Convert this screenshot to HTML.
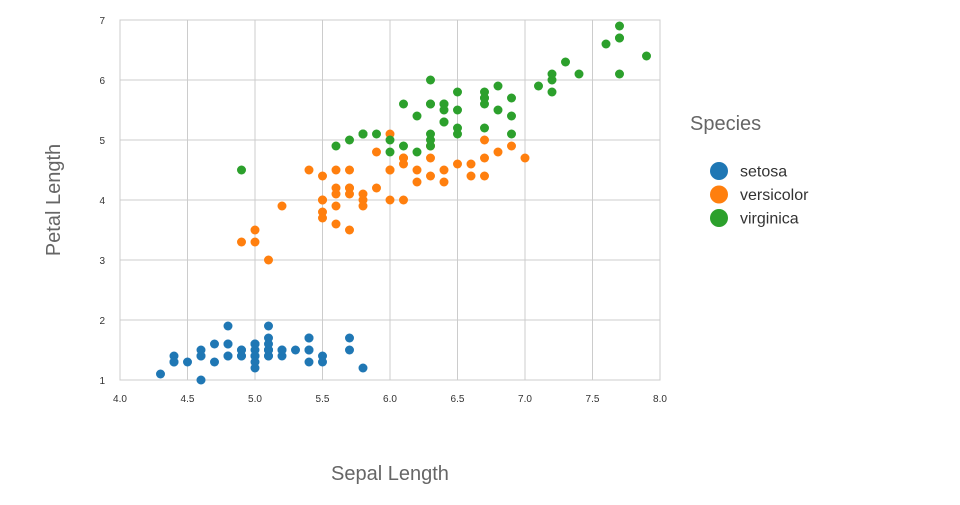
<!DOCTYPE html>
<html><head><meta charset="utf-8"><style>
body{margin:0;background:#fff;font-family:"Liberation Sans","DejaVu Sans",sans-serif}
svg text{font-family:"Liberation Sans","DejaVu Sans",sans-serif}
</style></head><body>
<svg id="chart" width="960" height="500">
<g id="grid"></g>
<rect x="120" y="20" width="540" height="360" fill="none" stroke="#ccc"/>
<g id="ticks"></g>
<g id="points"></g>
<text x="390" y="480" text-anchor="middle" font-size="20" fill="#666">Sepal Length</text>
<text transform="translate(60,200) rotate(-90)" text-anchor="middle" font-size="20" fill="#666">Petal Length</text>
<g id="legend">
<text x="690" y="130" font-size="20" fill="#666">Species</text>
</g>
</svg>
<script>
const species = ["setosa","versicolor","virginica"];
const colors = ["#1f77b4","#ff7f0e","#2ca02c"];
const xTicks = ["4.0","4.5","5.0","5.5","6.0","6.5","7.0","7.5","8.0"];
const yTicks = ["1","2","3","4","5","6","7"];
const setosaX = [5.1,4.9,4.7,4.6,5.0,5.4,4.6,5.0,4.4,4.9,5.4,4.8,4.8,4.3,5.8,5.7,5.4,5.1,5.7,5.1,5.4,5.1,4.6,5.1,4.8,5.0,5.0,5.2,5.2,4.7,4.8,5.4,5.2,5.5,4.9,5.0,5.5,4.9,4.4,5.1,5.0,4.5,4.4,5.0,5.1,4.8,5.1,4.6,5.3,5.0];
const setosaY = [1.4,1.4,1.3,1.5,1.4,1.7,1.4,1.5,1.4,1.5,1.5,1.6,1.4,1.1,1.2,1.5,1.3,1.4,1.7,1.5,1.7,1.5,1.0,1.7,1.9,1.6,1.6,1.5,1.4,1.6,1.6,1.5,1.5,1.4,1.5,1.2,1.3,1.4,1.3,1.5,1.3,1.3,1.3,1.6,1.9,1.4,1.6,1.4,1.5,1.4];
const versicolorX = [7.0,6.4,6.9,5.5,6.5,5.7,6.3,4.9,6.6,5.2,5.0,5.9,6.0,6.1,5.6,6.7,5.6,5.8,6.2,5.6,5.9,6.1,6.3,6.1,6.4,6.6,6.8,6.7,6.0,5.7,5.5,5.5,5.8,6.0,5.4,6.0,6.7,6.3,5.6,5.5,5.5,6.1,5.8,5.0,5.6,5.7,5.7,6.2,5.1,5.7];
const versicolorY = [4.7,4.5,4.9,4.0,4.6,4.5,4.7,3.3,4.6,3.9,3.5,4.2,4.0,4.7,3.6,4.4,4.5,4.1,4.5,3.9,4.8,4.0,4.9,4.7,4.3,4.4,4.8,5.0,4.5,3.5,3.8,3.7,3.9,5.1,4.5,4.5,4.7,4.4,4.1,4.0,4.4,4.6,4.0,3.3,4.2,4.2,4.2,4.3,3.0,4.1];
const virginicaX = [6.3,5.8,7.1,6.3,6.5,7.6,4.9,7.3,6.7,7.2,6.5,6.4,6.8,5.7,5.8,6.4,6.5,7.7,7.7,6.0,6.9,5.6,7.7,6.3,6.7,7.2,6.2,6.1,6.4,7.2,7.4,7.9,6.4,6.3,6.1,7.7,6.3,6.4,6.0,6.9,6.7,6.9,5.8,6.8,6.7,6.7,6.3,6.5,6.2,5.9];
const virginicaY = [6.0,5.1,5.9,5.6,5.8,6.6,4.5,6.3,5.8,6.1,5.1,5.3,5.5,5.0,5.1,5.3,5.5,6.7,6.9,5.0,5.7,4.9,6.7,4.9,5.7,6.0,4.8,4.9,5.6,5.8,6.1,6.4,5.6,5.1,5.6,6.1,5.6,5.5,4.8,5.4,5.6,5.1,5.1,5.9,5.7,5.2,5.0,5.2,5.4,5.1];
const series = [[setosaX,setosaY],[versicolorX,versicolorY],[virginicaX,virginicaY]];
const NS="http://www.w3.org/2000/svg";
const xs = v => 120 + (v-4)*135;
const ys = v => 380 - (v-1)*60;
function mk(tag, attrs, parent, txt){const e=document.createElementNS(NS,tag);for(const k in attrs)e.setAttribute(k,attrs[k]);if(txt!=null)e.textContent=txt;parent.appendChild(e);return e;}
const grid=document.getElementById('grid'), ticks=document.getElementById('ticks'), pts=document.getElementById('points'), leg=document.getElementById('legend');
xTicks.forEach(t=>{
  const x=xs(+t);
  const l=mk('line',{x1:x,x2:x,y1:20,y2:380,stroke:'#ccc'},grid);
  
  
  const tx=mk('text',{x:x,y:402,'text-anchor':'middle','font-size':10,fill:'#333'},ticks,t);
  
  
});
yTicks.forEach(t=>{
  const y=ys(+t);
  const l=mk('line',{x1:120,x2:660,y1:y,y2:y,stroke:'#ccc'},grid);
  
  
  const tx=mk('text',{x:105,y:y+4,'text-anchor':'end','font-size':10,fill:'#333'},ticks,t);
  
  
});
series.forEach((s,i)=>{
  s[0].forEach((xv,j)=>{
    const c=mk('circle',{cx:xs(xv),cy:ys(s[1][j]),r:4.5,fill:colors[i]},pts);
    
    
  });
  const y=171+i*23.5;
  const c=mk('circle',{cx:719,cy:y,r:9,fill:colors[i]},leg);
  
  
  const t=mk('text',{x:740,y:y+5.5,'font-size':16,fill:'#333'},leg,species[i]);
  
  
});
</script>
</body></html>
